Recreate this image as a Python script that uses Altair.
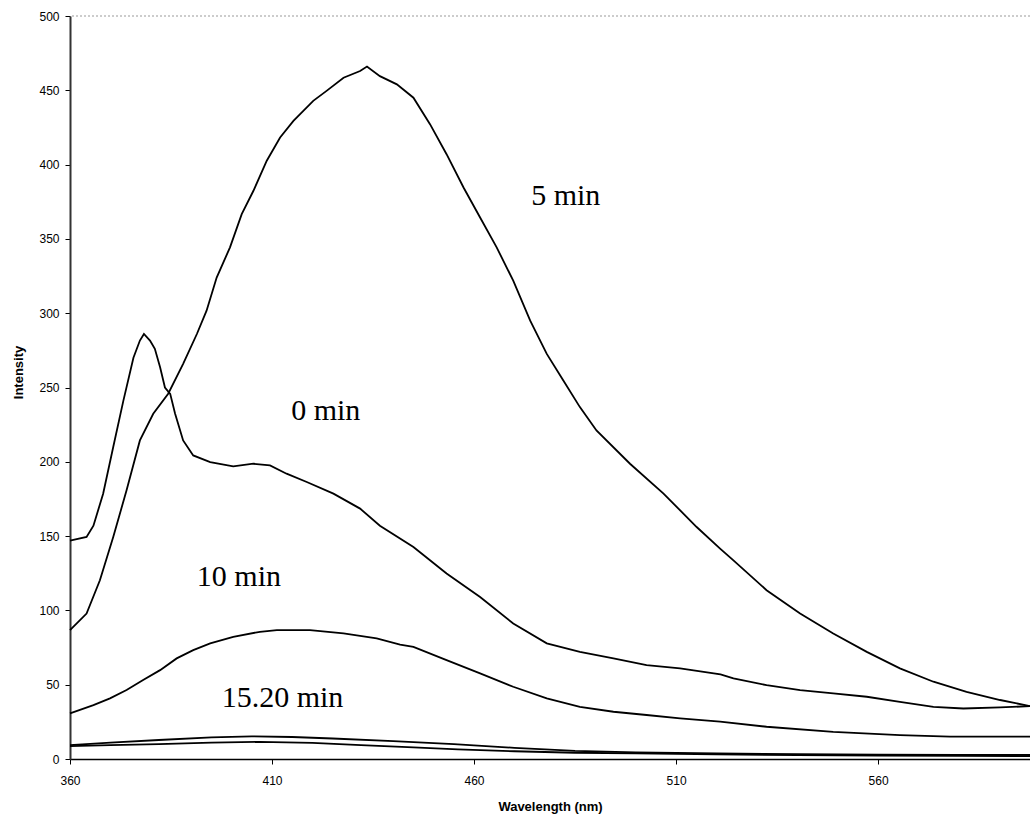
import altair as alt
import pandas as pd

# ---- data ----
wl_0 = [360, 364.1, 365.8, 368.2, 370.7, 373.2, 375.7, 377.3, 378.3, 379.8, 381, 382.3, 383.5, 384.8, 386, 388,
        390.5, 394.7, 400.4, 405.4, 409.5, 413.6, 418.6, 425.2, 431.8, 436.7, 445, 453.2, 461.5, 469.7, 478,
        486.2, 494.5, 502.7, 511, 516, 521, 524.2, 532.4, 540.7, 548.9, 557.2, 565.4, 573.7, 581.1, 590.2, 597.6]
int_0 = [147, 149.4, 157, 178.5, 210, 241, 270, 281.6, 286, 281.6, 276, 263.6, 250, 245.7, 232.5, 214.4,
         204.3, 199.8, 196.9, 198.7, 197.6, 192, 186.4, 178.6, 168.5, 157, 142.7, 124.8, 109, 91.2, 77.8,
         72.1, 67.7, 63.2, 61, 59, 57, 54.2, 49.7, 46.4, 44.2, 41.9, 38.5, 35.1, 34, 34.7, 35.6]

wl_5 = [360, 364.1, 367.4, 370.7, 374, 377.3, 380.6, 384.3, 388, 391.4, 393.8, 396.3, 399.6, 402.5, 405.4,
        408.7, 412, 415.3, 420.2, 423.5, 427.7, 431.8, 433.5, 436.7, 440.9, 445, 449.1, 453.2, 457.4, 461.5,
        465.6, 469.7, 473.9, 478, 482.1, 486.2, 490.3, 498.6, 506.9, 515.1, 520.9, 524.2, 532.4, 540.7, 548.9,
        557.2, 565.4, 573.7, 581.9, 590.2, 597.6]
int_5 = [86.7, 97.9, 120.3, 149.4, 180.8, 214.4, 232.3, 245.8, 265.9, 286, 301.7, 324, 344.3, 366.7, 382.4,
         402.6, 418.2, 429.4, 442.9, 449.6, 458.5, 463, 466, 459.5, 454, 445, 427.2, 407, 384.6, 364.4,
         344.3, 321.9, 295, 272.6, 254.7, 236.8, 221.1, 198.7, 178.6, 156.1, 141.6, 133.7, 113.6, 97.9, 84.5,
         72.1, 61, 52, 45.2, 39.7, 35.6]

wl_10 = [360, 365.8, 369.9, 374, 378.1, 382.3, 386.4, 390.5, 394.7, 400.4, 407, 411.2, 419.4, 427.7, 435.9,
         441.7, 445, 453.2, 461.5, 469.7, 478, 486.2, 494.5, 502.7, 511, 520.9, 532.4, 548.9, 565.4, 577.8, 597.6]
int_10 = [30.7, 36.3, 40.8, 46.4, 53.1, 59.8, 67.7, 73.3, 77.8, 82.2, 85.6, 86.7, 86.7, 84.5, 81.1,
          77, 75.5, 66.5, 57.6, 48.6, 40.8, 35.1, 31.8, 29.6, 27.4, 25.1, 21.7, 18.3, 16.1, 15, 15]

wl_15 = [360, 370, 382, 395, 405, 415, 425, 440, 455, 470, 485, 500, 520, 540, 560, 580, 597.6]
int_15 = [9.4, 11, 12.8, 14.5, 15.2, 14.8, 13.8, 12, 10, 7.5, 5.5, 4.5, 3.8, 3.2, 3, 2.8, 2.7]

wl_20 = [360, 370, 382, 395, 407, 420, 432, 445, 456, 470, 485, 500, 520, 540, 560, 580, 597.6]
int_20 = [8.7, 9.3, 10, 11, 11.5, 10.8, 9.4, 7.8, 6.5, 5.2, 4.2, 3.8, 3.2, 2.6, 2.3, 2.1, 2]

label_text = ["5 min", "0 min", "10 min", "15.20 min"]
label_x = [482.7, 423.3, 401.8, 412.6]
label_y = [373, 228.3, 116.2, 35.1]

x_ticks = [360, 410, 460, 510, 560]
y_ticks = [0, 50, 100, 150, 200, 250, 300, 350, 400, 450, 500]

# ---- build tables ----
rows = []
for name, wl, iv in [("0 min", wl_0, int_0), ("5 min", wl_5, int_5), ("10 min", wl_10, int_10),
                     ("15 min", wl_15, int_15), ("20 min", wl_20, int_20)]:
    for w, v in zip(wl, iv):
        rows.append({"series": name, "wl": w, "intensity": v})
df = pd.DataFrame(rows)
labels = pd.DataFrame({"text": label_text, "wl": label_x, "intensity": label_y})

xscale = alt.Scale(domain=[360, 597.6], nice=False, zero=False)
yscale = alt.Scale(domain=[0, 500], nice=False)

lines = alt.Chart(df).mark_line(color="black", strokeWidth=1.8).encode(
    x=alt.X("wl:Q", scale=xscale,
            axis=alt.Axis(title="Wavelength (nm)", values=x_ticks, grid=False, format="d",
                          labelFlush=False, labelBound=False,
                          tickSize=5, labelPadding=11, domainColor="black", domainWidth=1.5,
                          tickColor="black", labelFont="Liberation Sans", labelFontSize=12,
                          labelColor="black", titleFont="Liberation Sans", titleFontSize=13,
                          titleFontWeight="bold", titleColor="black", titleBaseline="middle",
                          titleY=47)),
    y=alt.Y("intensity:Q", scale=yscale,
            axis=alt.Axis(title="Intensity", values=y_ticks, grid=False, format="d",
                          labelFlush=False, labelBound=False,
                          tickSize=5, labelPadding=6, domainColor="#333", domainWidth=2,
                          tickColor="black", labelFont="Liberation Sans", labelFontSize=12,
                          labelColor="black", titleFont="Liberation Sans", titleFontSize=13,
                          titleFontWeight="bold", titleColor="black", titleAngle=270,
                          titleAlign="center", titleBaseline="middle", titleX=-52, titleY=356)),
    detail="series:N",
    order="wl:Q",
)

texts = alt.Chart(labels).mark_text(font="Liberation Serif", fontSize=30, color="black",
                                    align="center", baseline="alphabetic").encode(
    x=alt.X("wl:Q", scale=xscale),
    y=alt.Y("intensity:Q", scale=yscale),
    text="text:N",
)

top_rule = alt.Chart(pd.DataFrame({"v": [500]})).mark_rule(
    color="#999", strokeDash=[2, 2], strokeWidth=1).encode(y=alt.Y("v:Q", scale=yscale))

chart = alt.layer(top_rule, lines, texts).properties(
    width=960, height=743,
    padding={"left": 70, "top": 16, "right": 0, "bottom": 58},
    autosize="none",
    background="white",
).configure_view(stroke=None)

chart.save("out.html", embed_options={"renderer": "svg", "actions": False})
